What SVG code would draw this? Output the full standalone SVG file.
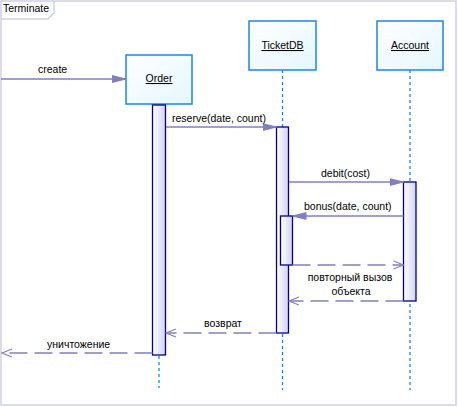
<svg xmlns="http://www.w3.org/2000/svg" width="458" height="407" viewBox="0 0 458 407">
<style>
text{font-family:"Liberation Sans",Arial,sans-serif;font-size:10.5px;fill:#000}
.frame{fill:none;stroke:#cfcfe6;stroke-width:1.5}
.obj{fill:url(#objG);stroke:#1a86f0;stroke-width:1.5}
.act{fill:url(#actG);stroke:#00008b;stroke-width:1.3}
.life{stroke:#1a86f0;stroke-width:1.3;stroke-dasharray:3,3;fill:none}
.msg{stroke:#8080c0;stroke-width:1.3;fill:none}
.ret{stroke:#8080c0;stroke-width:1.3;fill:none;stroke-dasharray:18,7}
.name{text-anchor:middle;text-decoration:underline}
</style>
<defs>
<linearGradient id="objG" x1="0" y1="0" x2="1" y2="1">
<stop offset="0" stop-color="#ffffff"/>
<stop offset="1" stop-color="#e4f7ff"/>
</linearGradient>
<linearGradient id="actG" x1="0" y1="0" x2="1" y2="0">
<stop offset="0" stop-color="#ffffff"/>
<stop offset="1" stop-color="#d2d2f6"/>
</linearGradient>
<marker id="fill" markerWidth="14" markerHeight="10" refX="14" refY="5" orient="auto" markerUnits="userSpaceOnUse">
<path d="M0,1 L12,4 L14,4 L14,6 L12,6 L0,9 Z" fill="#8080c0"/>
</marker>
<marker id="open" markerWidth="12" markerHeight="10" refX="11" refY="5" orient="auto" markerUnits="userSpaceOnUse">
<path d="M1,1 L11,5 L1,9" fill="none" stroke="#8080c0" stroke-width="1.2"/>
</marker>
</defs>
<g id="frame">
<rect class="frame" x="1" y="1" width="455" height="404"/>
<path class="frame" d="M1,19 L48,19 L54,13 L54,1"/>
<text x="3" y="12">Terminate</text>
</g>
<g id="lifelines">
<line class="life" x1="159" y1="104" x2="159" y2="388"/>
<line class="life" x1="282.5" y1="70" x2="282.5" y2="390"/>
<line class="life" x1="410" y1="70" x2="410" y2="390"/>
</g>
<g id="Order">
<rect class="obj" x="126" y="55" width="66" height="49"/>
<text class="name" x="159" y="82">Order</text>
<rect class="act" x="152.5" y="105" width="13" height="250"/>
</g>
<g id="TicketDB">
<rect class="obj" x="249" y="21" width="67" height="49"/>
<text class="name" x="282.5" y="49">TicketDB</text>
<rect class="act" x="276.5" y="127" width="12" height="206"/>
<rect class="act" x="280.5" y="216" width="12" height="49"/>
</g>
<g id="Account">
<rect class="obj" x="377" y="21" width="66" height="49"/>
<text class="name" x="410" y="49">Account</text>
<rect class="act" x="403.5" y="182" width="12.5" height="119"/>
</g>
<g id="connectors">
<line class="msg" x1="1" y1="79" x2="126" y2="79" marker-end="url(#fill)"/>
<text x="38" y="73">create</text>
<line class="msg" x1="166" y1="127" x2="276.5" y2="127" marker-end="url(#fill)"/>
<text x="172" y="122">reserve(date, count)</text>
<line class="msg" x1="289" y1="182" x2="403.5" y2="182" marker-end="url(#fill)"/>
<text x="321" y="177">debit(cost)</text>
<line class="msg" x1="403.5" y1="216" x2="292.5" y2="216" marker-end="url(#fill)"/>
<text x="304" y="210">bonus(date, count)</text>
<line class="ret" x1="292.5" y1="265" x2="403.5" y2="265" marker-end="url(#open)"/>
<line class="ret" x1="403.5" y1="301" x2="289" y2="301" marker-end="url(#open)"/>
<text x="350" y="281" text-anchor="middle">повторный вызов</text>
<text x="351" y="295" text-anchor="middle">объекта</text>
<line class="ret" x1="276.5" y1="333" x2="166" y2="333" marker-end="url(#open)"/>
<text x="223" y="327" text-anchor="middle">возврат</text>
<line class="ret" x1="152.5" y1="353" x2="2" y2="353" marker-end="url(#open)"/>
<text x="47" y="348">уничтожение</text>
</g>
</svg>
